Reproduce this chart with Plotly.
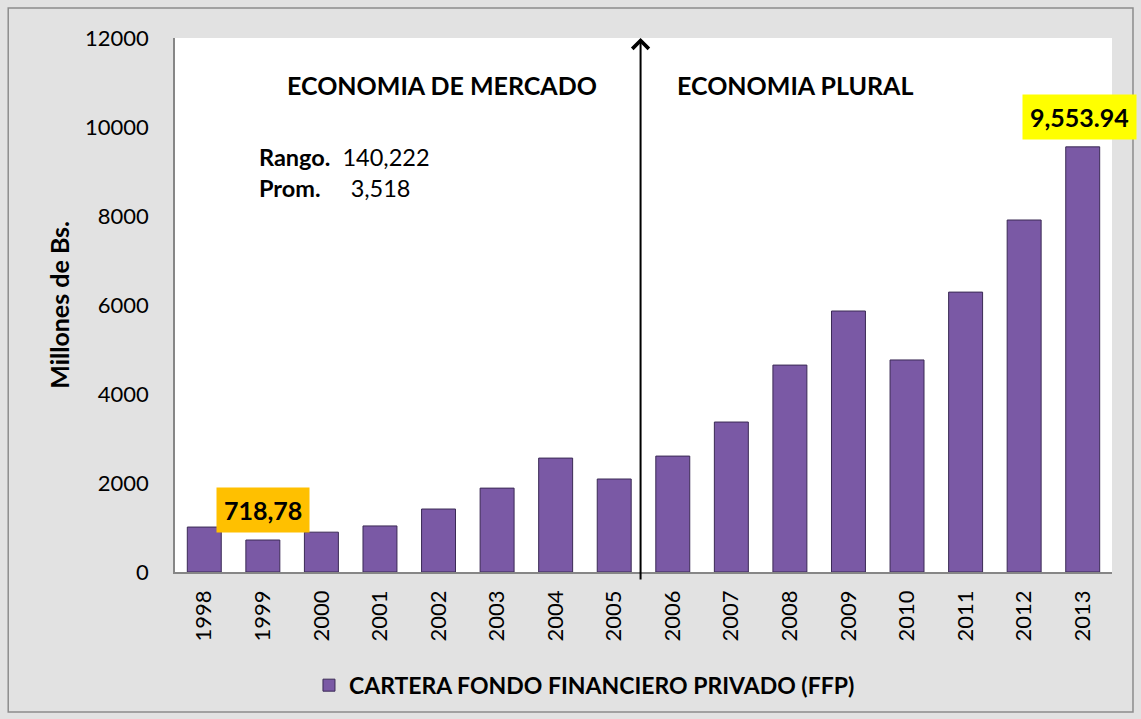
import plotly.graph_objs as go

# data
years = ['1998', '1999', '2000', '2001', '2002', '2003', '2004', '2005',
         '2006', '2007', '2008', '2009', '2010', '2011', '2012', '2013']
cartera = [1010, 718.78, 895, 1035, 1415, 1885, 2560, 2090,
           2605, 3370, 4650, 5865, 4765, 6290, 7910, 9553.94]
y_ticks = [0, 2000, 4000, 6000, 8000, 10000, 12000]

FONT = 'Lato'

fig = go.Figure()
fig.add_trace(go.Bar(x=years, y=cartera,
                     name='<b>CARTERA FONDO FINANCIERO PRIVADO (FFP)</b>',
                     width=0.58,
                     marker=dict(color='#7a59a5',
                                 line=dict(color='#3b2a55', width=1))))

# divider arrow between 2005 and 2006
fig.add_annotation(x=7.45, y=12000, ax=7.45, ay=-200,
                   xref='x', yref='y', axref='x', ayref='y',
                   text='', showarrow=True, arrowhead=4, arrowsize=1.6,
                   arrowwidth=2, arrowcolor='black')

fig.add_annotation(x=4.06, y=10950, xref='x', yref='y', showarrow=False,
                   text='<b>ECONOMIA DE MERCADO</b>',
                   font=dict(family=FONT, size=25, color='black'))
fig.add_annotation(x=8.04, y=10950, xref='x', yref='y', showarrow=False,
                   xanchor='left', text='<b>ECONOMIA PLURAL</b>',
                   font=dict(family=FONT, size=25, color='black'))
fig.add_annotation(x=0.9, y=9320, xref='x', yref='y', showarrow=False,
                   xanchor='left', text='<b>Rango.</b>  140,222',
                   font=dict(family=FONT, size=23.5, color='black'))
fig.add_annotation(x=0.9, y=8640, xref='x', yref='y', showarrow=False,
                   xanchor='left', text='<b>Prom.</b>     3,518',
                   font=dict(family=FONT, size=23.5, color='black'))

# highlighted values
fig.add_annotation(x=1, y=cartera[1], xref='x', yref='y', showarrow=False,
                   xshift=0, yshift=30, text='<b>718,78</b>',
                   bgcolor='#ffc000', borderpad=7,
                   font=dict(family=FONT, size=25, color='black'))
fig.add_annotation(x=15, y=cartera[15], xref='x', yref='y', showarrow=False,
                   xshift=-3, yshift=30, text='<b>9,553.94</b>',
                   bgcolor='#ffff00', borderpad=7,
                   font=dict(family=FONT, size=25, color='black'))

fig.update_layout(
    width=1141, height=719,
    margin=dict(l=175, r=29, t=38, b=147, autoexpand=False),
    paper_bgcolor='#e2e2e2',
    plot_bgcolor='white',
    bargap=0.42,
    showlegend=True,
    legend=dict(orientation='h', x=0.437, xanchor='center', y=-0.212,
                yanchor='middle', bgcolor='rgba(0,0,0,0)',
                font=dict(family=FONT, size=23, color='black'),
                itemwidth=30),
    font=dict(family=FONT, color='black'),
    shapes=[dict(type='rect', xref='paper', yref='paper',
                 x0=-0.178, x1=1.0224, y0=-0.262, y1=1.056,
                 line=dict(color='#8c8c8c', width=1.5))],
)
fig.update_xaxes(type='category', range=[-0.5, 15.5], tickangle=-90,
                 showline=True, linecolor='#868686', linewidth=1.5, ticks='',
                 automargin=False, ticklabelstandoff=8,
                 tickfont=dict(family=FONT, size=22, color='black'),
                 showgrid=False)
fig.update_yaxes(range=[0, 12000], tickvals=y_ticks,
                 ticktext=[str(v) for v in y_ticks], showline=True,
                 linecolor='#868686', linewidth=1.5, showgrid=False,
                 zeroline=False, ticks='', automargin=False,
                 ticklabelstandoff=20,
                 tickfont=dict(family=FONT, size=22, color='black'),
                 title=dict(text='<b>Millones de Bs.</b>', standoff=8,
                            font=dict(family=FONT, size=25, color='black')))

fig.write_html("out.html", config={'displayModeBar': False},
               post_script="document.body.style.margin='0px';")
